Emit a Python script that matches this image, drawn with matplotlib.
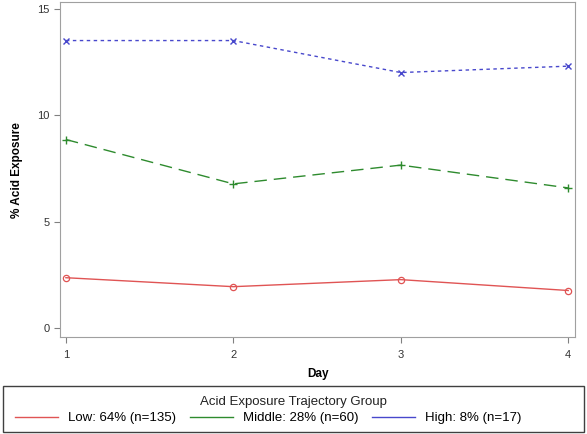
import matplotlib
matplotlib.use("Agg")
from matplotlib import pyplot as plt
from matplotlib.lines import Line2D
from matplotlib.patches import Rectangle

days = [1, 2, 3, 4]
low = [2.38, 1.96, 2.29, 1.78]
middle = [8.86, 6.78, 7.66, 6.59]
high = [13.5, 13.5, 12.0, 12.3]
labels = ["Low: 64% (n=135)", "Middle: 28% (n=60)", "High: 8% (n=17)"]

c_low = "#E05454"
c_mid = "#2E8B2E"
c_high = "#4848CC"

plt.rcParams['font.family'] = ['Liberation Sans', 'DejaVu Sans']

fig = plt.figure(figsize=(5.87, 4.34), dpi=100)
ax = fig.add_axes([0.102, 0.2235, 0.878, 0.7715])

ax.plot(days, low, color=c_low, lw=1.0, marker='o', ms=4.5, mfc='none', mew=0.9)
ax.plot(days, middle, color=c_mid, lw=1.0, ls=(0, (9, 5)), marker='+', ms=6, mew=1.0)
ax.plot(days, high, color=c_high, lw=1.0, ls=(0, (2.5, 2.5)), marker='x', ms=5, mew=1.0)

ax.set_xlim(0.964, 4.042)
ax.set_ylim(-0.4, 15.3)
ax.set_xticks(days)
ax.set_yticks([0, 5, 10, 15])
for s in ax.spines.values():
    s.set_color('#a0a0a0')
ax.tick_params(colors='#808080', labelcolor='#333333', labelsize=8, length=4, width=0.8)
ax.tick_params(axis='x', pad=5)
ax.set_xlabel('Day', fontweight='bold', fontsize=8.5, labelpad=6)
ax.set_ylabel('% Acid Exposure', fontweight='bold', fontsize=8.5, labelpad=10)

# legend box
fig.patches.append(Rectangle((3 / 587, 2 / 434), 581 / 587, 46 / 434, transform=fig.transFigure,
                             fill=False, edgecolor='#404040', lw=1.0))
fig.text(0.5, (434 - 402) / 434, 'Acid Exposure Trajectory Group', ha='center', va='center',
         fontsize=9.5, color='#222222')
handles = [Line2D([], [], color=c, lw=1.0) for c in (c_low, c_mid, c_high)]
fig.legend(handles, labels, loc='center left', bbox_to_anchor=(15 / 587, (434 - 418) / 434), ncol=3,
           frameon=False, fontsize=9.5, handlelength=3.25, columnspacing=1.0,
           handletextpad=0.8, borderpad=0, borderaxespad=0)

fig.savefig('out.png', dpi=100)
